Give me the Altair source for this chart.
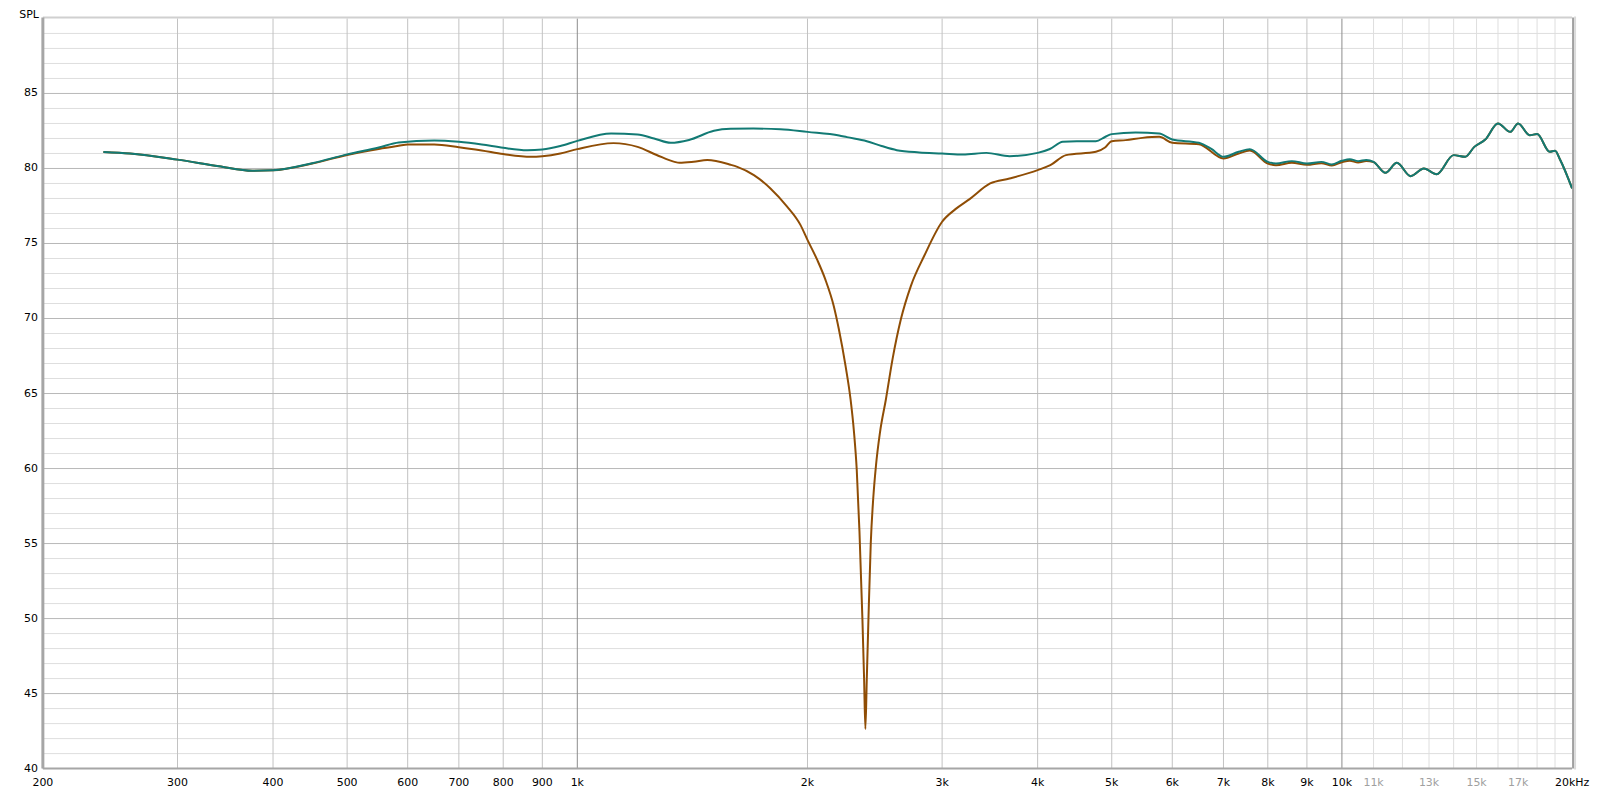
import altair as alt
import pandas as pd

# ---- data ----
teal_freq = [240, 260, 300, 340, 376, 400, 450, 500, 550, 584, 650, 700, 750, 800, 860, 900, 950,
             1000, 1107, 1199, 1260, 1325, 1400, 1509, 1586, 1700, 1843, 2000, 2200, 2252, 2391,
             2500, 2617, 2800, 3000, 3196, 3428, 3675, 4000, 4150, 4314, 4500, 4767, 4900, 5000,
             5372, 5769, 6000, 6500, 6750, 7000, 7328, 7577, 8000, 8200, 8600, 9000, 9400, 9700,
             10000, 10240, 10500, 10760, 11000, 11400, 11800, 12300, 12800, 13300, 14000, 14500,
             14900, 15400, 16000, 16600, 17000, 17600, 18000, 18700, 19000, 19300, 20000]
teal_db = [81.1, 81.0, 80.59, 80.15, 79.85, 79.88, 80.35, 80.94, 81.4, 81.73, 81.87, 81.78, 81.6,
           81.38, 81.22, 81.27, 81.5, 81.84, 82.33, 82.27, 82.0, 81.71, 81.9, 82.51, 82.64, 82.66,
           82.62, 82.44, 82.2, 82.09, 81.82, 81.5, 81.22, 81.07, 81.0, 80.93, 81.04, 80.82, 81.04,
           81.3, 81.78, 81.82, 81.82, 82.1, 82.29, 82.4, 82.33, 81.93, 81.71, 81.3, 80.78, 81.11,
           81.29, 80.44, 80.33, 80.49, 80.33, 80.44, 80.27, 80.51, 80.62, 80.49, 80.56, 80.44,
           79.71, 80.38, 79.49, 80.0, 79.62, 80.89, 80.78, 81.44, 81.93, 83.0, 82.44, 83.0, 82.22,
           82.29, 81.11, 81.18, 80.56, 78.67]

brown_freq = [240, 260, 300, 340, 376, 400, 450, 500, 550, 584, 600, 650, 700, 750, 800, 870, 900,
              950, 1000, 1115, 1199, 1270, 1340, 1360, 1420, 1479, 1586, 1619, 1702, 1789, 1881,
              1958, 2000, 2059, 2111, 2165, 2198, 2243, 2277, 2301, 2320, 2339, 2360, 2372, 2381,
              2391, 2403, 2420, 2438, 2458, 2488, 2533, 2584, 2650, 2731, 2843, 3000, 3123, 3259,
              3467, 3675, 4000, 4156, 4356, 4767, 4900, 5000, 5215, 5481, 5769, 6000, 6500, 7000,
              7328, 7577, 8000, 8200, 8600, 9000, 9400, 9700, 10000, 10240, 10500, 10760, 11000,
              11400, 11800, 12300, 12800, 13300, 14000, 14500, 14900, 15400, 16000, 16600, 17000,
              17600, 18000, 18700, 19000, 19300, 20000]
brown_db = [81.1, 81.0, 80.59, 80.15, 79.85, 79.88, 80.33, 80.9, 81.3, 81.51, 81.6, 81.6, 81.42,
            81.2, 80.96, 80.78, 80.82, 81.0, 81.29, 81.69, 81.44, 80.9, 80.44, 80.38, 80.45, 80.56,
            80.25, 80.11, 79.56, 78.67, 77.46, 76.24, 75.24, 73.92, 72.59, 70.82, 69.3, 66.84,
            64.62, 62.4, 59.9, 55.8, 49.93, 45.93, 42.64, 45.9, 49.93, 55.04, 58.0, 60.18, 62.4,
            64.62, 67.29, 69.96, 72.18, 74.18, 76.45, 77.29, 77.96, 79.0, 79.33, 79.89, 80.22,
            80.89, 81.11, 81.4, 81.82, 81.89, 82.04, 82.11, 81.71, 81.62, 80.67, 81.0, 81.2, 80.33,
            80.22, 80.38, 80.24, 80.35, 80.2, 80.42, 80.52, 80.4, 80.5, 80.42, 79.71, 80.38, 79.49,
            80.0, 79.62, 80.89, 80.78, 81.44, 81.93, 83.0, 82.44, 83.0, 82.22, 82.29, 81.11, 81.18,
            80.56, 78.67]

# grid / tick definitions
grid_x_major = [1000, 10000]
grid_x_mid = [200, 300, 400, 500, 600, 700, 800, 900, 2000, 3000, 4000, 5000, 6000, 7000, 8000, 9000]
grid_x_light = [11000, 12000, 13000, 14000, 15000, 16000, 17000, 18000, 19000]
grid_y_major = [45, 50, 55, 60, 65, 70, 75, 80, 85]
grid_y_minor = [v for v in range(41, 90) if v % 5 != 0]

x_tick_vals = [200, 300, 400, 500, 600, 700, 800, 900, 1000, 2000, 3000, 4000, 5000, 6000, 7000,
               8000, 9000, 10000, 11000, 13000, 15000, 17000, 20000]
x_tick_text = ["200", "300", "400", "500", "600", "700", "800", "900", "1k", "2k", "3k", "4k", "5k",
               "6k", "7k", "8k", "9k", "10k", "11k", "13k", "15k", "17k", "20kHz"]
x_tick_dim = [False] * 18 + [True, True, True, True, False]
y_tick_vals = [40, 45, 50, 55, 60, 65, 70, 75, 80, 85]

W, H = 1535, 753
FONT = "DejaVu Sans"

xs = alt.Scale(type="log", domain=[200, 20000], nice=False)
ys = alt.Scale(domain=[40, 90], nice=False, zero=False)

def vgrid(vals, color):
    return alt.Chart(pd.DataFrame({"f": vals})).mark_rule(color=color, strokeWidth=1).encode(
        x=alt.X("f:Q", scale=xs, axis=None))

def hgrid(vals, color):
    return alt.Chart(pd.DataFrame({"d": vals})).mark_rule(color=color, strokeWidth=1).encode(
        y=alt.Y("d:Q", scale=ys, axis=None))

g1 = hgrid(grid_y_minor, "#dedede")
g2 = vgrid(grid_x_light, "#dedede")
g3 = vgrid(grid_x_mid, "#c2c2c2")
g4 = hgrid(grid_y_major, "#b8b8b8")
g5 = vgrid(grid_x_major, "#8c8c8c")

brown = alt.Chart(pd.DataFrame({"f": brown_freq, "d": brown_db})).mark_line(
    color="#8f4d05", strokeWidth=2, interpolate="monotone").encode(
    x=alt.X("f:Q", scale=xs, axis=None), y=alt.Y("d:Q", scale=ys, axis=None))
teal = alt.Chart(pd.DataFrame({"f": teal_freq, "d": teal_db})).mark_line(
    color="#127a74", strokeWidth=2, interpolate="monotone").encode(
    x=alt.X("f:Q", scale=xs, axis=None), y=alt.Y("d:Q", scale=ys, axis=None))

xlab_df = pd.DataFrame({"f": x_tick_vals, "t": x_tick_text, "dim": x_tick_dim})
xlabels = alt.Chart(xlab_df).mark_text(font=FONT, fontSize=11, align="center",
                                       baseline="alphabetic").encode(
    x=alt.X("f:Q", scale=xs, axis=None), y=alt.value(H + 17), text="t:N",
    color=alt.Color("dim:N", scale=alt.Scale(domain=[False, True], range=["#000000", "#a0a0a0"]),
                    legend=None))

ylabels = alt.Chart(pd.DataFrame({"d": y_tick_vals})).mark_text(
    font=FONT, fontSize=11, align="right", baseline="middle", color="#000000").encode(
    y=alt.Y("d:Q", scale=ys, axis=None), x=alt.value(-5), text="d:Q")

spl = alt.Chart(pd.DataFrame({"t": ["SPL"]})).mark_text(
    font=FONT, fontSize=11, align="right", baseline="alphabetic", color="#000000").encode(
    x=alt.value(-4), y=alt.value(0), text="t:N")

# frame
left_edge = alt.Chart(pd.DataFrame({"d": [40]})).mark_rule(color="#a6a6a6", strokeWidth=3).encode(
    x=alt.value(0), y=alt.value(-1), y2=alt.value(H))
bottom_edge = alt.Chart(pd.DataFrame({"d": [40]})).mark_rule(color="#a6a6a6", strokeWidth=2).encode(
    x=alt.value(0), x2=alt.value(W), y=alt.value(H))
top_edge = alt.Chart(pd.DataFrame({"d": [40]})).mark_rule(color="#d0d0d0", strokeWidth=2).encode(
    x=alt.value(0), x2=alt.value(W), y=alt.value(-1))
right_edge = alt.Chart(pd.DataFrame({"d": [40]})).mark_rule(color="#a0a0a0", strokeWidth=2).encode(
    x=alt.value(W + 1), y=alt.value(-1), y2=alt.value(H))
right_shadow = alt.Chart(pd.DataFrame({"d": [40]})).mark_rule(color="#dadada", strokeWidth=2).encode(
    x=alt.value(W + 3), y=alt.value(-2), y2=alt.value(H + 1))

chart = alt.layer(
    g1, g2, g3, g4, g5, brown, teal, xlabels, ylabels, spl,
    top_edge, left_edge, bottom_edge, right_edge, right_shadow
).properties(
    width=W, height=H,
    autosize=alt.AutoSizeParams(type="none"),
    padding={"left": 35, "top": 9, "right": 20, "bottom": 22},
    background="#ffffff",
).configure_view(stroke=None)

chart.save("out.html", embed_options={"renderer": "svg", "actions": False})
